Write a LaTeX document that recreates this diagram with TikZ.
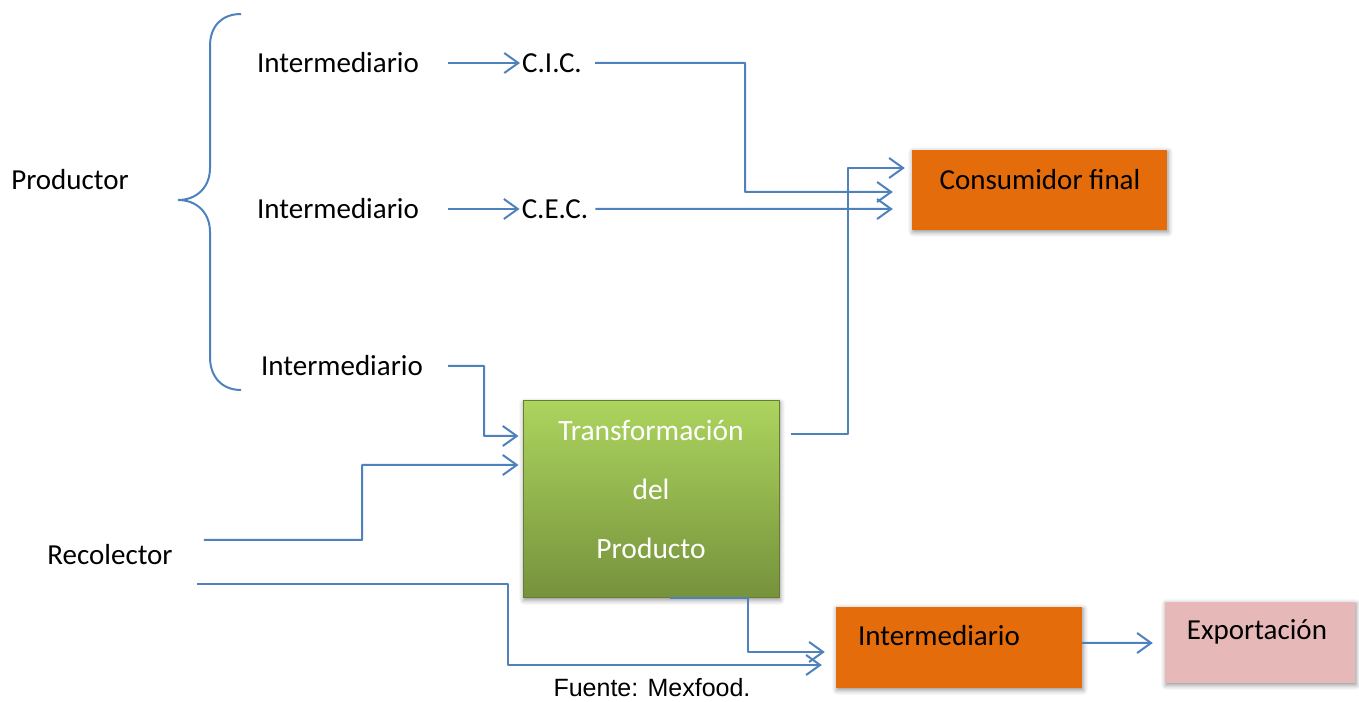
\documentclass[tikz,border=0pt]{standalone}
\usepackage{fontspec}
\setmainfont{Carlito}
\newfontfamily\arialfont{Liberation Sans}
\usetikzlibrary{arrows.meta,shadows.blur}
\definecolor{linkblue}{RGB}{79,129,189}
\definecolor{boxorange}{RGB}{228,108,10}
\definecolor{boxpink}{RGB}{230,185,184}
\definecolor{greentop}{RGB}{172,212,94}
\definecolor{greenbot}{RGB}{118,146,60}
\begin{document}
\begin{tikzpicture}[>={Straight Barb[length=14bp,width=20bp]},line join=bevel,
  lbl/.style={inner sep=0pt,font=\fontsize{29bp}{35bp}\selectfont},
  link/.style={draw=linkblue,line width=2bp,->},
  softshadow/.style={blur shadow={shadow xshift=1bp,shadow yshift=-2bp,shadow blur radius=5bp,shadow opacity=45}},
  orangebox/.style={rectangle,inner sep=0pt,fill=boxorange,draw=none,softshadow},
  pinkbox/.style={rectangle,inner sep=0pt,fill=boxpink,draw=none,softshadow},
  greenbox/.style={rectangle,inner sep=0pt,top color=greentop,bottom color=greenbot,draw=greenbot!85!black,line width=1bp,softshadow},
]
%%
\useasboundingbox (0bp,0bp) rectangle (1359bp,702bp);
\draw [linkblue,line width=2bp] (241bp,688bp) .. controls (222bp,688bp) and (210bp,676bp) .. (210bp,656bp) -- (210bp,534bp) .. controls (210bp,514bp) and (196bp,502bp) .. (178bp,502bp) .. controls (196bp,502bp) and (210bp,490bp) .. (210bp,470bp) -- (210bp,345bp) .. controls (210bp,325bp) and (222bp,312bp) .. (241bp,312bp);
%
\node (node_prod) at (70bp,522bp) [lbl] {Productor};
  \node (node_int_a) at (338bp,639bp) [lbl] {Intermediario};
  \node (node_int_b) at (338bp,493bp) [lbl] {Intermediario};
  \node (node_int_c) at (342bp,336bp) [lbl] {Intermediario};
  \node (node_cic) at (552bp,639bp) [lbl] {C.I.C.};
  \node (node_cec) at (555bp,493bp) [lbl] {C.E.C.};
  \node (node_rec) at (110bp,147bp) [lbl] {Recolector};
  \node (node_cons) at (1039.5bp,512bp) [orangebox,minimum width=255bp,minimum height=80bp] {};
  \node (node_cons_txt) at (1040bp,522bp) [lbl] {Consumidor final};
  \node (node_trans) at (651bp,202.5bp) [greenbox,minimum width=256bp,minimum height=197bp] {};
  \node (node_trans_txt) at (651bp,213bp) [lbl,text=white,align=center,font=\fontsize{29.5bp}{59bp}\selectfont] {Transformación\\del\\Producto};
  \node (node_inter) at (959bp,54.5bp) [orangebox,minimum width=246bp,minimum height=81bp] {};
  \node (node_inter_txt) at (939bp,66bp) [lbl] {Intermediario};
  \node (node_expo) at (1260bp,59.5bp) [pinkbox,minimum width=190bp,minimum height=81bp] {};
  \node (node_expo_txt) at (1257bp,70bp) [lbl] {Exportación};
  \node (node_src) at (652bp,14bp) [inner sep=0pt,font=\arialfont\fontsize{25bp}{30bp}\selectfont] {Fuente: Mexfood.};
%
  \draw [link,shorten <=29bp,shorten >=2bp] (node_int_a) -- (node_cic);
  \draw [link,shorten <=29bp,shorten >=2bp] (node_int_b) -- (node_cec);
  \draw [link,shorten <=13bp,shorten >=19bp] (node_cic.east) -| (745bp,510bp) -- ([yshift=-2bp]node_cons.west);
  \draw [link,shorten <=7bp,shorten >=19bp] (node_cec.east) -- ([yshift=-19bp]node_cons.west);
  \draw [link,shorten <=11bp,shorten >=7bp] ([yshift=65.5bp]node_trans.east) -| (848bp,534bp) -- ([yshift=22bp]node_cons.west);
  \draw [link,shorten <=25bp,shorten >=4bp] (node_int_c.east) -| (484bp,266bp) -- ([yshift=63.5bp]node_trans.west);
  \draw [link,shorten <=31bp,shorten >=4bp] ([yshift=15bp]node_rec.east) -| (362bp,237bp) -- ([yshift=34.5bp]node_trans.west);
  \draw [link,shorten <=24bp,shorten >=14bp] ([yshift=-29bp]node_rec.east) -| (508bp,37bp) -- ([yshift=-17.5bp]node_inter.west);
  \draw [link,shorten >=11bp] ([xshift=19bp]node_trans.south) -| (748bp,50bp) -- ([yshift=-4.5bp]node_inter.west);
  \draw [link,shorten >=12bp] ([yshift=4.5bp]node_inter.east) -- ([yshift=-0.5bp]node_expo.west);
%
\end{tikzpicture}
\end{document}
